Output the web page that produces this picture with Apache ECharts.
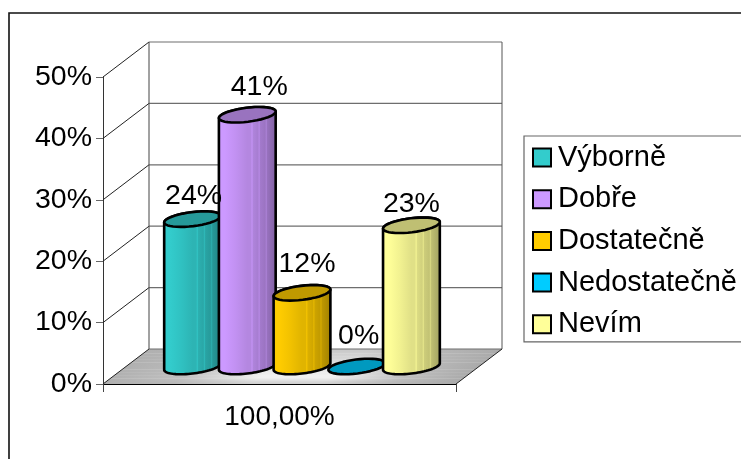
<!DOCTYPE html>
<html><head><meta charset="utf-8">
<style>html,body{margin:0;padding:0;background:#fff}#c{width:741px;height:459px}</style>
<script src="https://cdn.jsdelivr.net/npm/echarts@6/dist/echarts.min.js"></script>
</head><body><div id="c"></div>
<script>
const categories = ['100,00%'];
const seriesNames = ['Výborně', 'Dobře', 'Dostatečně', 'Nedostatečně', 'Nevím'];
const seriesValues = [24, 41, 12, 0, 23];
const seriesColors = ['#33cccc', '#cc99ff', '#ffcc00', '#00ccff', '#ffff99'];
const topColors = ['#269999', '#9973bf', '#bf9900', '#0099bf', '#bfbf73'];
const yTicks = [0, 10, 20, 30, 40, 50];
const labelNudgeX = [1, 12, 5, 2, 0];
const labelNudgeY = [23, 28, 29, 30, 21];

const FONT = '"Liberation Sans", Arial, sans-serif';
const FS = 28.5;
const SPACING = 0.155, RADIUS = 0.081, DEPTH_X = 46 / 353, DEPTH_Y = 35 / 307;

function shade(hex, k) {
  const n = parseInt(hex.slice(1), 16);
  const c = [n >> 16 & 255, n >> 8 & 255, n & 255].map(v => Math.round(v * k));
  return `rgb(${c[0]},${c[1]},${c[2]})`;
}
function bodyFill(hex) {
  const st = [[0,.93],[.06,1],[.12,1.0],[.3,.95],[.5,.88],[.56,.88],[.58,.96],[.6,.86],[.68,.82],[.7,.9],[.72,.8],[.8,.76],[.82,.84],[.84,.74],[1,.62]];
  return { type: 'linear', x: 0, y: 0, x2: 1, y2: 0, colorStops: st.map(s => ({ offset: s[0], color: shade(hex, s[1]) })) };
}
function ell(cx, cy, a, b, th, t) {
  return [cx + a * Math.cos(t) * Math.cos(th) - b * Math.sin(t) * Math.sin(th),
          cy + a * Math.cos(t) * Math.sin(th) + b * Math.sin(t) * Math.cos(th)];
}
function arc(cx, cy, a, b, th, t0, t1) {
  const pts = [];
  for (let i = 0; i <= 40; i++) pts.push(ell(cx, cy, a, b, th, t0 + (t1 - t0) * i / 40));
  return pts;
}
function gray(v) { v = Math.round(v); return `rgb(${v},${v},${v})`; }
function floorBand(f) {
  const centre = f < .8 ? 200 + (242 - 200) * f / .8 : 242 - (242 - 205) * (f - .8) / .2;
  const edge = 176;
  return { type: 'linear', x: 0, y: 0, x2: 1, y2: 0, colorStops: [
    { offset: 0, color: gray(edge) }, { offset: .2, color: gray(edge + (centre - edge) * .25) },
    { offset: .42, color: gray(centre) }, { offset: .62, color: gray(centre) },
    { offset: .82, color: gray(edge + (centre - edge) * .25) }, { offset: 1, color: gray(edge - 6) }] };
}

function renderFrame(params, api) {
  const c0 = api.coord([0, 0]);
  const sz = api.size([1, 1]);
  const w = sz[0];
  const l = c0[0] - w / 2, r = c0[0] + w / 2;
  const dx = w * DEPTH_X, dy = api.size([0, 50])[1] * DEPTH_Y;
  const kids = [];
  const line = (x1, y1, x2, y2, col, lw) => kids.push({ type: 'line', shape: { x1, y1, x2, y2 }, style: { stroke: col, lineWidth: lw } });
  const N = 24;
  for (let i = 0; i < N; i++) {
    const f0 = i / N, f1 = Math.min(1, (i + 1.3) / N);
    const at = f => [l + dx * (1 - f), r + dx * (1 - f), c0[1] - dy * (1 - f)];
    const a = at(f0), b = at(f1);
    kids.push({ type: 'polygon', shape: { points: [[a[0], a[2]], [a[1], a[2]], [b[1], b[2]], [b[0], b[2]]] }, style: { fill: floorBand((i + .5) / N) } });
  }
  yTicks.forEach(v => {
    const y = api.coord([0, v])[1];
    line(l + dx, y - dy, r + dx, y - dy, '#6e6e6e', 1.2);
    line(l, y, l + dx, y - dy, '#222', 1);
  });
  const yTop = api.coord([0, yTicks[yTicks.length - 1]])[1];
  line(l + dx, yTop - dy, l + dx, c0[1] - dy, '#444', 1);
  line(r + dx, yTop - dy, r + dx, c0[1] - dy, '#555', 1);
  line(r, c0[1], r + dx, c0[1] - dy, '#222', 1);
  return { type: 'group', children: kids };
}

function renderCyl(params, api) {
  const idx = params.seriesIndex - 1;
  const val = api.value(1);
  const w = api.size([1, 1])[0];
  const h50 = api.size([0, 50])[1];
  const base = api.coord([0, 0]), top = api.coord([0, val]);
  const cx = base[0] + (idx - 2) * SPACING * w + w * DEPTH_X / 2 - 0.5;
  const ox = h50 * DEPTH_Y / 2;
  const yb = base[1] - ox, yt = top[1] - ox;
  const a = RADIUS * w, b = a * 0.245, th = -7 * Math.PI / 180;
  const t0 = Math.atan(-(b / a) * Math.tan(th));
  const kids = [];
  const stroke = { stroke: '#000', lineWidth: 2.6, lineJoin: 'round' };
  if (val > 0) {
    const pts = arc(cx, yb, a, b, th, t0, t0 + Math.PI).concat(arc(cx, yt, a, b, th, t0 + Math.PI, t0 + 2 * Math.PI));
    kids.push({ type: 'polygon', shape: { points: pts }, style: Object.assign({ fill: bodyFill(seriesColors[idx]) }, stroke) });
  }
  kids.push({ type: 'polygon', shape: { points: arc(cx, yt, a, b, th, 0, 2 * Math.PI) }, style: Object.assign({ fill: topColors[idx] }, stroke) });
  kids.push({ type: 'text', z2: 50, style: { x: cx + labelNudgeX[idx], y: yt - labelNudgeY[idx], text: val + '%', font: FS + 'px ' + FONT, fill: '#000', align: 'center', verticalAlign: 'middle' } });
  return { type: 'group', children: kids };
}

const series = [{ type: 'custom', name: '_frame', renderItem: renderFrame, data: [[0, 0]], silent: true, z: 1, clip: false }];
seriesNames.forEach((n, i) => series.push({
  type: 'custom', name: n, renderItem: renderCyl, data: [[0, seriesValues[i]]], z: 2, clip: false,
  itemStyle: { color: seriesColors[i], borderColor: '#000', borderWidth: 2 }
}));

const chart = echarts.init(document.getElementById('c'), null, { renderer: 'canvas' });
chart.setOption({
  animation: false,
  backgroundColor: '#fff',
  graphic: [{ type: 'rect', silent: true, z: 0, shape: { x: 9, y: 13, width: 800, height: 500 }, style: { fill: 'none', stroke: '#111', lineWidth: 1.6 } }],
  grid: { left: 103, top: 77, width: 353, height: 307, containLabel: false },
  xAxis: {
    type: 'category', data: categories,
    axisLine: { lineStyle: { color: '#000', width: 1 } },
    axisTick: { show: true, length: 8, lineStyle: { color: '#444' } },
    axisLabel: { fontFamily: FONT, fontSize: 28, color: '#000', margin: 19 }
  },
  yAxis: {
    type: 'value', min: 0, max: 50, interval: 10,
    axisLine: { show: true, lineStyle: { color: '#333', width: 1 } },
    axisTick: { show: true, length: 7, lineStyle: { color: '#666' } },
    splitLine: { show: false },
    axisLabel: { fontFamily: FONT, fontSize: FS, color: '#000', margin: 11, formatter: '{value}%' }
  },
  legend: {
    show: true, data: seriesNames, orient: 'vertical', left: 524, top: 136,
    padding: [7, 30, 3, 8], itemWidth: 18, itemHeight: 18, itemGap: 12.7,
    borderColor: '#666', borderWidth: 1.2, icon: 'rect',
    textStyle: { fontFamily: FONT, fontSize: 29, color: '#000', padding: [0, 0, 0, 2] },
    selectedMode: false
  },
  series
});
</script></body></html>
